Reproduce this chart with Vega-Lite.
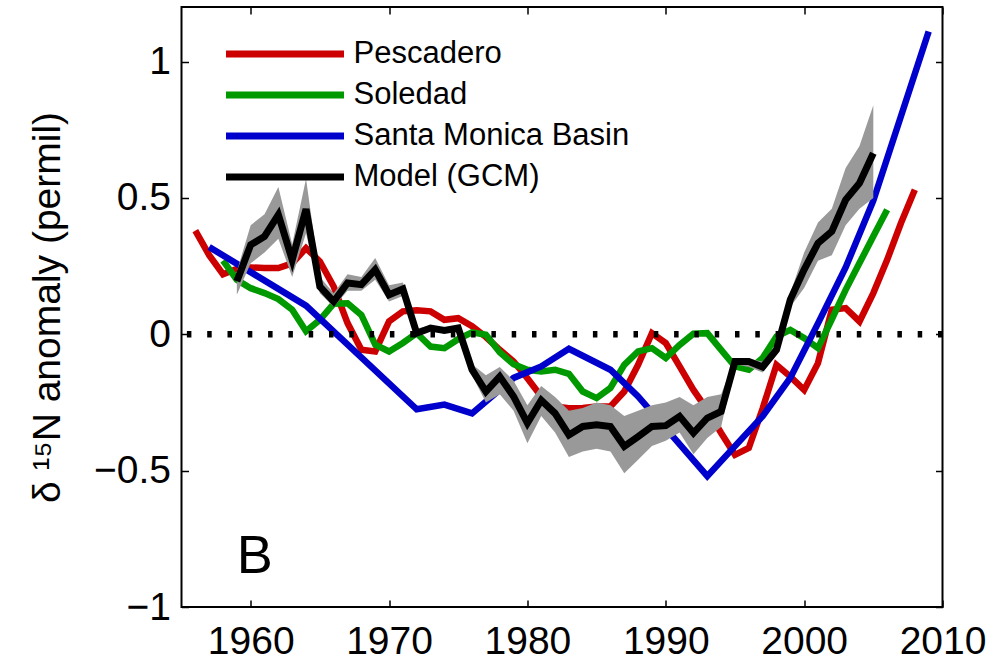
{
  "$schema": "https://vega.github.io/schema/vega-lite/v6.json",
  "width": 761,
  "height": 600,
  "autosize": "none",
  "padding": {"left": 181.5, "top": 7, "right": 49.5, "bottom": 55},
  "config": {
    "view": {"stroke": "#000", "strokeWidth": 2},
    "font": "Liberation Sans",
    "axis": {
      "grid": false,
      "domain": false,
      "tickColor": "#000",
      "tickWidth": 1.5,
      "tickSize": -7,
      "labelColor": "#000",
      "labelFont": "Liberation Sans",
      "labelFontSize": 39,
      "labelFlush": false,
      "labelOverlap": false,
      "titleFont": "Liberation Sans",
      "titleFontWeight": "normal",
      "titleColor": "#000"
    }
  },
  "datasets": {
    "series": [
      {"series": "Pescadero", "year": 1956, "value": 0.38},
      {"series": "Pescadero", "year": 1957, "value": 0.29},
      {"series": "Pescadero", "year": 1958, "value": 0.22},
      {"series": "Pescadero", "year": 1959, "value": 0.24},
      {"series": "Pescadero", "year": 1960, "value": 0.245},
      {"series": "Pescadero", "year": 1961, "value": 0.243},
      {"series": "Pescadero", "year": 1962, "value": 0.243},
      {"series": "Pescadero", "year": 1963, "value": 0.26},
      {"series": "Pescadero", "year": 1964, "value": 0.316},
      {"series": "Pescadero", "year": 1965, "value": 0.267},
      {"series": "Pescadero", "year": 1966, "value": 0.175},
      {"series": "Pescadero", "year": 1967, "value": 0.041},
      {"series": "Pescadero", "year": 1968, "value": -0.057},
      {"series": "Pescadero", "year": 1969, "value": -0.063},
      {"series": "Pescadero", "year": 1970, "value": 0.047},
      {"series": "Pescadero", "year": 1971, "value": 0.084},
      {"series": "Pescadero", "year": 1972, "value": 0.088},
      {"series": "Pescadero", "year": 1973, "value": 0.084},
      {"series": "Pescadero", "year": 1974, "value": 0.053},
      {"series": "Pescadero", "year": 1975, "value": 0.059},
      {"series": "Pescadero", "year": 1976, "value": 0.03},
      {"series": "Pescadero", "year": 1977, "value": -0.01},
      {"series": "Pescadero", "year": 1978, "value": -0.057},
      {"series": "Pescadero", "year": 1979, "value": -0.1},
      {"series": "Pescadero", "year": 1980, "value": -0.161},
      {"series": "Pescadero", "year": 1981, "value": -0.228},
      {"series": "Pescadero", "year": 1982, "value": -0.265},
      {"series": "Pescadero", "year": 1983, "value": -0.271},
      {"series": "Pescadero", "year": 1984, "value": -0.27},
      {"series": "Pescadero", "year": 1985, "value": -0.265},
      {"series": "Pescadero", "year": 1986, "value": -0.265},
      {"series": "Pescadero", "year": 1987, "value": -0.21},
      {"series": "Pescadero", "year": 1988, "value": -0.112},
      {"series": "Pescadero", "year": 1989, "value": 0.004},
      {"series": "Pescadero", "year": 1990, "value": -0.032},
      {"series": "Pescadero", "year": 1991, "value": -0.118},
      {"series": "Pescadero", "year": 1992, "value": -0.204},
      {"series": "Pescadero", "year": 1993, "value": -0.277},
      {"series": "Pescadero", "year": 1994, "value": -0.362},
      {"series": "Pescadero", "year": 1995, "value": -0.442},
      {"series": "Pescadero", "year": 1996, "value": -0.417},
      {"series": "Pescadero", "year": 1997, "value": -0.272},
      {"series": "Pescadero", "year": 1998, "value": -0.112},
      {"series": "Pescadero", "year": 1999, "value": -0.155},
      {"series": "Pescadero", "year": 2000, "value": -0.204},
      {"series": "Pescadero", "year": 2001, "value": -0.106},
      {"series": "Pescadero", "year": 2002, "value": 0.09},
      {"series": "Pescadero", "year": 2003, "value": 0.096},
      {"series": "Pescadero", "year": 2004, "value": 0.047},
      {"series": "Pescadero", "year": 2005, "value": 0.151},
      {"series": "Pescadero", "year": 2006, "value": 0.273},
      {"series": "Pescadero", "year": 2007, "value": 0.408},
      {"series": "Pescadero", "year": 2008, "value": 0.53},

      {"series": "Soledad", "year": 1958, "value": 0.27},
      {"series": "Soledad", "year": 1959, "value": 0.2},
      {"series": "Soledad", "year": 1960, "value": 0.169},
      {"series": "Soledad", "year": 1961, "value": 0.151},
      {"series": "Soledad", "year": 1962, "value": 0.129},
      {"series": "Soledad", "year": 1963, "value": 0.09},
      {"series": "Soledad", "year": 1964, "value": 0.011},
      {"series": "Soledad", "year": 1965, "value": 0.053},
      {"series": "Soledad", "year": 1966, "value": 0.112},
      {"series": "Soledad", "year": 1967, "value": 0.114},
      {"series": "Soledad", "year": 1968, "value": 0.071},
      {"series": "Soledad", "year": 1969, "value": -0.038},
      {"series": "Soledad", "year": 1970, "value": -0.063},
      {"series": "Soledad", "year": 1971, "value": -0.032},
      {"series": "Soledad", "year": 1972, "value": 0.004},
      {"series": "Soledad", "year": 1973, "value": -0.045},
      {"series": "Soledad", "year": 1974, "value": -0.051},
      {"series": "Soledad", "year": 1975, "value": -0.018},
      {"series": "Soledad", "year": 1976, "value": 0.007},
      {"series": "Soledad", "year": 1977, "value": -0.002},
      {"series": "Soledad", "year": 1978, "value": -0.066},
      {"series": "Soledad", "year": 1979, "value": -0.11},
      {"series": "Soledad", "year": 1980, "value": -0.13},
      {"series": "Soledad", "year": 1981, "value": -0.136},
      {"series": "Soledad", "year": 1982, "value": -0.13},
      {"series": "Soledad", "year": 1983, "value": -0.145},
      {"series": "Soledad", "year": 1984, "value": -0.21},
      {"series": "Soledad", "year": 1985, "value": -0.234},
      {"series": "Soledad", "year": 1986, "value": -0.197},
      {"series": "Soledad", "year": 1987, "value": -0.112},
      {"series": "Soledad", "year": 1988, "value": -0.063},
      {"series": "Soledad", "year": 1989, "value": -0.051},
      {"series": "Soledad", "year": 1990, "value": -0.087},
      {"series": "Soledad", "year": 1991, "value": -0.039},
      {"series": "Soledad", "year": 1992, "value": 0.002},
      {"series": "Soledad", "year": 1993, "value": 0.004},
      {"series": "Soledad", "year": 1994, "value": -0.057},
      {"series": "Soledad", "year": 1995, "value": -0.118},
      {"series": "Soledad", "year": 1996, "value": -0.13},
      {"series": "Soledad", "year": 1997, "value": -0.087},
      {"series": "Soledad", "year": 1998, "value": -0.008},
      {"series": "Soledad", "year": 1999, "value": 0.016},
      {"series": "Soledad", "year": 2000, "value": -0.014},
      {"series": "Soledad", "year": 2001, "value": -0.051},
      {"series": "Soledad", "year": 2002, "value": 0.055},
      {"series": "Soledad", "year": 2003, "value": 0.163},
      {"series": "Soledad", "year": 2004, "value": 0.261},
      {"series": "Soledad", "year": 2005, "value": 0.359},
      {"series": "Soledad", "year": 2006, "value": 0.457},

      {"series": "Santa Monica Basin", "year": 1957, "value": 0.32},
      {"series": "Santa Monica Basin", "year": 1964, "value": 0.105},
      {"series": "Santa Monica Basin", "year": 1972, "value": -0.275},
      {"series": "Santa Monica Basin", "year": 1974, "value": -0.258},
      {"series": "Santa Monica Basin", "year": 1976, "value": -0.29},
      {"series": "Santa Monica Basin", "year": 1979, "value": -0.16},
      {"series": "Santa Monica Basin", "year": 1981, "value": -0.118},
      {"series": "Santa Monica Basin", "year": 1983, "value": -0.053},
      {"series": "Santa Monica Basin", "year": 1986, "value": -0.13},
      {"series": "Santa Monica Basin", "year": 1988, "value": -0.228},
      {"series": "Santa Monica Basin", "year": 1993, "value": -0.52},
      {"series": "Santa Monica Basin", "year": 1995, "value": -0.41},
      {"series": "Santa Monica Basin", "year": 1997, "value": -0.3},
      {"series": "Santa Monica Basin", "year": 1999, "value": -0.16},
      {"series": "Santa Monica Basin", "year": 2001, "value": 0.04},
      {"series": "Santa Monica Basin", "year": 2003, "value": 0.245},
      {"series": "Santa Monica Basin", "year": 2005, "value": 0.49},
      {"series": "Santa Monica Basin", "year": 2009, "value": 1.11},

      {"series": "Model (GCM)", "year": 1959, "value": 0.194, "lo": 0.145, "hi": 0.23},
      {"series": "Model (GCM)", "year": 1960, "value": 0.328, "lo": 0.26, "hi": 0.4},
      {"series": "Model (GCM)", "year": 1961, "value": 0.359, "lo": 0.3, "hi": 0.44},
      {"series": "Model (GCM)", "year": 1962, "value": 0.438, "lo": 0.35, "hi": 0.54},
      {"series": "Model (GCM)", "year": 1963, "value": 0.273, "lo": 0.21, "hi": 0.33},
      {"series": "Model (GCM)", "year": 1964, "value": 0.459, "lo": 0.37, "hi": 0.57},
      {"series": "Model (GCM)", "year": 1965, "value": 0.175, "lo": 0.15, "hi": 0.21},
      {"series": "Model (GCM)", "year": 1966, "value": 0.12, "lo": 0.1, "hi": 0.15},
      {"series": "Model (GCM)", "year": 1967, "value": 0.188, "lo": 0.16, "hi": 0.22},
      {"series": "Model (GCM)", "year": 1968, "value": 0.182, "lo": 0.16, "hi": 0.21},
      {"series": "Model (GCM)", "year": 1969, "value": 0.237, "lo": 0.2, "hi": 0.28},
      {"series": "Model (GCM)", "year": 1970, "value": 0.145, "lo": 0.12, "hi": 0.18},
      {"series": "Model (GCM)", "year": 1971, "value": 0.166, "lo": 0.14, "hi": 0.19},
      {"series": "Model (GCM)", "year": 1972, "value": 0.004, "lo": -0.01, "hi": 0.02},
      {"series": "Model (GCM)", "year": 1973, "value": 0.023, "lo": 0.013, "hi": 0.033},
      {"series": "Model (GCM)", "year": 1974, "value": 0.014, "lo": 0.004, "hi": 0.024},
      {"series": "Model (GCM)", "year": 1975, "value": 0.023, "lo": 0.013, "hi": 0.033},
      {"series": "Model (GCM)", "year": 1976, "value": -0.13, "lo": -0.15, "hi": -0.11},
      {"series": "Model (GCM)", "year": 1977, "value": -0.21, "lo": -0.25, "hi": -0.15},
      {"series": "Model (GCM)", "year": 1978, "value": -0.155, "lo": -0.22, "hi": -0.12},
      {"series": "Model (GCM)", "year": 1979, "value": -0.228, "lo": -0.28, "hi": -0.17},
      {"series": "Model (GCM)", "year": 1980, "value": -0.326, "lo": -0.4, "hi": -0.26},
      {"series": "Model (GCM)", "year": 1981, "value": -0.242, "lo": -0.3, "hi": -0.19},
      {"series": "Model (GCM)", "year": 1982, "value": -0.29, "lo": -0.36, "hi": -0.23},
      {"series": "Model (GCM)", "year": 1983, "value": -0.369, "lo": -0.45, "hi": -0.28},
      {"series": "Model (GCM)", "year": 1984, "value": -0.338, "lo": -0.43, "hi": -0.27},
      {"series": "Model (GCM)", "year": 1985, "value": -0.332, "lo": -0.42, "hi": -0.25},
      {"series": "Model (GCM)", "year": 1986, "value": -0.338, "lo": -0.43, "hi": -0.26},
      {"series": "Model (GCM)", "year": 1987, "value": -0.411, "lo": -0.51, "hi": -0.3},
      {"series": "Model (GCM)", "year": 1988, "value": -0.375, "lo": -0.46, "hi": -0.28},
      {"series": "Model (GCM)", "year": 1989, "value": -0.338, "lo": -0.41, "hi": -0.26},
      {"series": "Model (GCM)", "year": 1990, "value": -0.335, "lo": -0.39, "hi": -0.25},
      {"series": "Model (GCM)", "year": 1991, "value": -0.301, "lo": -0.36, "hi": -0.23},
      {"series": "Model (GCM)", "year": 1992, "value": -0.362, "lo": -0.44, "hi": -0.26},
      {"series": "Model (GCM)", "year": 1993, "value": -0.307, "lo": -0.38, "hi": -0.23},
      {"series": "Model (GCM)", "year": 1994, "value": -0.283, "lo": -0.34, "hi": -0.22},
      {"series": "Model (GCM)", "year": 1995, "value": -0.1, "lo": -0.11, "hi": -0.09},
      {"series": "Model (GCM)", "year": 1996, "value": -0.1, "lo": -0.12, "hi": -0.09},
      {"series": "Model (GCM)", "year": 1997, "value": -0.12, "lo": -0.14, "hi": -0.1},
      {"series": "Model (GCM)", "year": 1998, "value": -0.057, "lo": -0.07, "hi": -0.04},
      {"series": "Model (GCM)", "year": 1999, "value": 0.127, "lo": 0.1, "hi": 0.15},
      {"series": "Model (GCM)", "year": 2000, "value": 0.237, "lo": 0.17, "hi": 0.3},
      {"series": "Model (GCM)", "year": 2001, "value": 0.334, "lo": 0.27, "hi": 0.41},
      {"series": "Model (GCM)", "year": 2002, "value": 0.377, "lo": 0.29, "hi": 0.46},
      {"series": "Model (GCM)", "year": 2003, "value": 0.493, "lo": 0.4, "hi": 0.61},
      {"series": "Model (GCM)", "year": 2004, "value": 0.554, "lo": 0.46, "hi": 0.69},
      {"series": "Model (GCM)", "year": 2005, "value": 0.664, "lo": 0.5, "hi": 0.84}
    ],
    "zero": [{"value": 0}],
    "panel": [{"year": 1959.0, "value": -0.875, "label": "B"}]
  },
  "layer": [
    {
      "data": {"name": "series"},
      "transform": [{"filter": "datum.series !== 'Model (GCM)'"}],
      "mark": {"type": "line", "strokeWidth": 6.5},
      "encoding": {
        "x": {
          "field": "year", "type": "quantitative",
          "scale": {"domain": [1955, 2010], "nice": false, "zero": false},
          "axis": {"orient": "bottom", "values": [1960, 1970, 1980, 1990, 2000, 2010], "format": "d", "title": null, "labelPadding": 22}
        },
        "y": {
          "field": "value", "type": "quantitative",
          "scale": {"domain": [-1, 1.2], "nice": false, "zero": false},
          "axis": {
            "orient": "left", "values": [-1, -0.5, 0, 0.5, 1], "format": "~g", "labelPadding": 18,
            "title": "δ ¹⁵N anomaly (permil)", "titleFontSize": 39, "titlePadding": 26
          }
        },
        "color": {
          "field": "series", "type": "nominal",
          "scale": {
            "domain": ["Pescadero", "Soledad", "Santa Monica Basin", "Model (GCM)"],
            "range": ["#cc0000", "#009900", "#0000cc", "#000000"]
          },
          "legend": {
            "title": null,
            "orient": "none",
            "legendX": 41,
            "legendY": 26.5,
            "symbolType": "stroke",
            "symbolSize": 13924,
            "symbolStrokeWidth": 7,
            "labelFont": "Liberation Sans",
            "labelFontSize": 31,
            "labelColor": "#000",
            "labelOffset": 6,
            "labelLimit": 500,
            "clipHeight": 41,
            "rowPadding": 0,
            "padding": 0
          }
        }
      }
    },
    {
      "data": {"name": "series"},
      "transform": [{"filter": "datum.series === 'Model (GCM)'"}],
      "mark": {"type": "area", "color": "#999999", "opacity": 1},
      "encoding": {
        "x": {"field": "year", "type": "quantitative",
              "axis": {"orient": "top", "values": [1960, 1970, 1980, 1990, 2000, 2010], "labels": false, "title": null}},
        "y": {"field": "lo", "type": "quantitative",
              "axis": {"orient": "right", "values": [-1, -0.5, 0, 0.5, 1], "labels": false, "title": null}},
        "y2": {"field": "hi"}
      }
    },
    {
      "data": {"name": "series"},
      "transform": [{"filter": "datum.series === 'Model (GCM)'"}],
      "mark": {"type": "line", "strokeWidth": 7},
      "encoding": {
        "x": {"field": "year", "type": "quantitative", "axis": null},
        "y": {"field": "value", "type": "quantitative", "axis": null},
        "color": {"field": "series", "type": "nominal"}
      }
    },
    {
      "data": {"name": "zero"},
      "mark": {"type": "rule", "color": "#000", "strokeWidth": 6.5, "strokeDash": [4.5, 15.8]},
      "encoding": {
        "y": {"field": "value", "type": "quantitative", "axis": null}
      }
    },
    {
      "data": {"name": "panel"},
      "mark": {"type": "text", "align": "left", "baseline": "alphabetic", "fontSize": 54, "font": "Liberation Sans", "color": "#000"},
      "encoding": {
        "x": {"field": "year", "type": "quantitative", "axis": null},
        "y": {"field": "value", "type": "quantitative", "axis": null},
        "text": {"field": "label"}
      }
    }
  ],
  "resolve": {"axis": {"x": "independent", "y": "independent"}}
}
